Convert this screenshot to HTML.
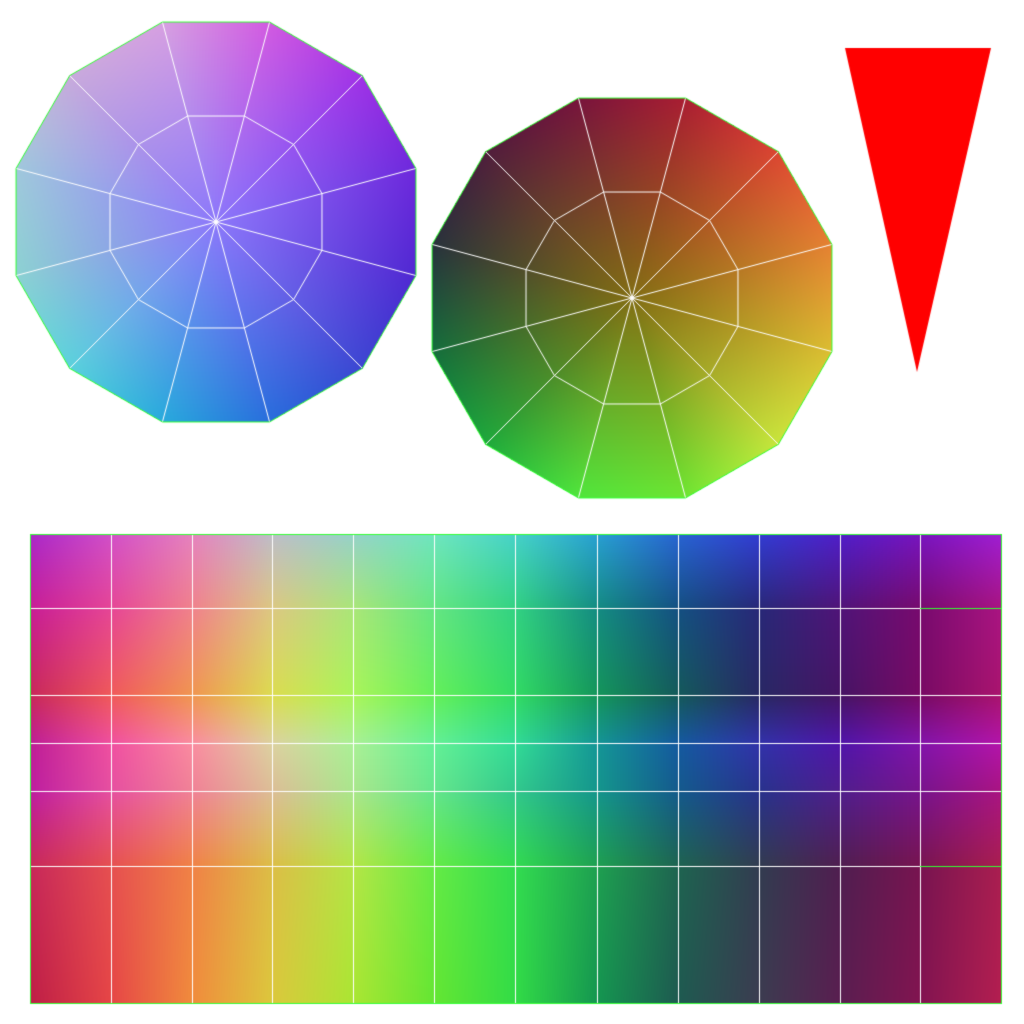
<!DOCTYPE html>
<html><head><meta charset="utf-8"><style>
html,body{margin:0;padding:0;background:#fff;width:1024px;height:1024px;overflow:hidden}
canvas{display:block}
</style></head><body>
<canvas id="c" width="1024" height="1024"></canvas>
<script>
const leftCenterColor=[140,120,250];
const leftRimColors=[[215,160,225],[210,90,225],[160,50,230],[110,40,220],[80,40,210],[60,70,210],[40,110,220],[40,170,220],[90,210,220],[140,210,210],[160,200,220],[200,170,220]];
const rightCenterColor=[130,110,20];
const rightRimColors=[[120,20,60],[170,30,50],[220,70,50],[230,130,50],[220,190,50],[200,230,60],[110,230,50],[80,230,60],[30,170,60],[20,110,60],[40,50,60],[80,30,60]];
const gridXs=[30,111,192,272,353,434,515,597,678,759,840,920,1001];
const gridYs=[534,608,695,743,791,866,1003];
const gridColors=[
[[170,40,200],[210,80,200],[230,130,190],[190,190,200],[150,210,200],[110,230,190],[70,210,200],[40,160,210],[40,100,210],[50,60,210],[80,30,200],[120,20,190],[160,30,210]],
[[200,30,150],[230,70,150],[240,130,140],[220,200,130],[170,230,120],[100,230,130],[50,210,130],[20,140,130],[20,80,130],[40,40,120],[80,20,120],[120,10,110],[170,20,130]],
[[200,40,90],[240,90,90],[240,150,80],[220,220,80],[170,245,90],[100,240,90],[50,220,100],[20,150,90],[20,90,90],[40,40,100],[70,20,100],[120,10,100],[170,20,110]],
[[190,30,150],[240,80,160],[250,140,160],[220,210,160],[170,240,150],[100,240,150],[50,220,150],[20,150,150],[20,90,160],[50,50,170],[80,20,170],[130,20,170],[180,20,170]],
[[190,30,160],[230,80,160],[240,130,150],[220,190,150],[170,230,140],[100,230,140],[50,200,140],[20,150,140],[20,90,140],[40,50,140],[80,30,140],[120,20,140],[170,20,130]],
[[200,40,90],[230,80,80],[240,130,70],[220,190,70],[180,230,70],[100,235,70],[50,220,80],[30,160,80],[30,100,80],[50,60,80],[80,30,80],[120,20,80],[170,30,80]],
[[190,30,70],[230,70,70],[240,140,60],[220,200,60],[170,230,50],[100,230,50],[50,220,70],[20,150,80],[30,90,80],[60,60,80],[90,30,80],[130,20,80],[180,30,80]]];

const cv=document.getElementById('c');const ctx=cv.getContext('2d');
ctx.fillStyle='#fff';ctx.fillRect(0,0,1024,1024);
const img=ctx.getImageData(0,0,1024,1024);const D=img.data;
function put(x,y,c){const i=(y*1024+x)*4;D[i]=c[0];D[i+1]=c[1];D[i+2]=c[2];D[i+3]=255;}
function tri(p0,p1,p2,c0,c1,c2){
 const minx=Math.floor(Math.min(p0[0],p1[0],p2[0])),maxx=Math.ceil(Math.max(p0[0],p1[0],p2[0]));
 const miny=Math.floor(Math.min(p0[1],p1[1],p2[1])),maxy=Math.ceil(Math.max(p0[1],p1[1],p2[1]));
 const den=(p1[1]-p2[1])*(p0[0]-p2[0])+(p2[0]-p1[0])*(p0[1]-p2[1]);
 for(let y=miny;y<=maxy;y++)for(let x=minx;x<=maxx;x++){
  const px=x+0.5,py=y+0.5;
  const a=((p1[1]-p2[1])*(px-p2[0])+(p2[0]-p1[0])*(py-p2[1]))/den;
  const b=((p2[1]-p0[1])*(px-p2[0])+(p0[0]-p2[0])*(py-p2[1]))/den;
  const g=1-a-b;
  if(a<-0.001||b<-0.001||g<-0.001)continue;
  put(x,y,[0,1,2].map(k=>a*c0[k]+b*c1[k]+g*c2[k]));
 }}
function polyVerts(cx,cy,r){const v=[];for(let i=0;i<12;i++){const ang=(-105+30*i)*Math.PI/180;v.push([cx+r*Math.cos(ang),cy+r*Math.sin(ang)]);}return v;}
const polys=[{cx:216,cy:222,cc:leftCenterColor,rim:leftRimColors},{cx:632,cy:298,cc:rightCenterColor,rim:rightRimColors}];
polys.forEach(p=>{p.v=polyVerts(p.cx,p.cy,207);
 for(let i=0;i<12;i++){const j=(i+1)%12;tri([p.cx,p.cy],p.v[i],p.v[j],p.cc,p.rim[i],p.rim[j]);}});
for(let r=0;r<gridYs.length-1;r++)for(let c=0;c<gridXs.length-1;c++){
 const x0=gridXs[c],x1=gridXs[c+1],y0=gridYs[r],y1=gridYs[r+1];
 const a=gridColors[r][c],b=gridColors[r][c+1],d=gridColors[r+1][c],e=gridColors[r+1][c+1];
 for(let y=y0;y<y1;y++){const t=(y-y0)/(y1-y0);for(let x=x0;x<x1;x++){const s=(x-x0)/(x1-x0);
  put(x,y,[0,1,2].map(k=>(1-t)*((1-s)*a[k]+s*b[k])+t*((1-s)*d[k]+s*e[k])));}}}
ctx.putImageData(img,0,0);
// wire lines
ctx.lineWidth=1;
polys.forEach(p=>{
 ctx.strokeStyle='#fff';ctx.beginPath();
 p.v.forEach(q=>{ctx.moveTo(p.cx,p.cy);ctx.lineTo(q[0],q[1]);});
 p.v.forEach((q,i)=>{const x=p.cx+(q[0]-p.cx)*0.53,y=p.cy+(q[1]-p.cy)*0.53;i?ctx.lineTo(x,y):ctx.moveTo(x,y);});
 ctx.closePath();ctx.stroke();
 ctx.strokeStyle='#3f3';ctx.beginPath();p.v.forEach((q,i)=>i?ctx.lineTo(q[0],q[1]):ctx.moveTo(q[0],q[1]));ctx.closePath();ctx.stroke();
});
ctx.strokeStyle='#fff';ctx.beginPath();
gridXs.forEach(x=>{ctx.moveTo(x+0.5,gridYs[0]);ctx.lineTo(x+0.5,gridYs[gridYs.length-1]);});
gridYs.forEach(y=>{ctx.moveTo(gridXs[0],y+0.5);ctx.lineTo(gridXs[gridXs.length-1],y+0.5);});
ctx.stroke();
ctx.strokeStyle='#3f3';ctx.strokeRect(30.5,534.5,971,469);
ctx.beginPath();ctx.moveTo(920,608.5);ctx.lineTo(1001,608.5);ctx.moveTo(920,866.5);ctx.lineTo(1001,866.5);ctx.stroke();
// triangle
ctx.fillStyle='#ff0000';ctx.beginPath();ctx.moveTo(845,48);ctx.lineTo(991,48);ctx.lineTo(917,372);ctx.closePath();ctx.fill();
</script>
</body></html>
